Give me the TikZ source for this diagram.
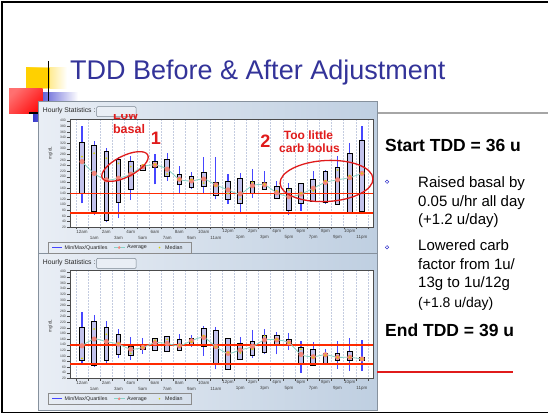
\documentclass[tikz,border=0pt]{standalone}
\usepackage{fontspec}
\setmainfont{Liberation Sans}
\definecolor{titleblue}{HTML}{333399}
\definecolor{whiskblue}{HTML}{4646FF}
\definecolor{boxfill}{HTML}{C2C2EC}
\definecolor{avgred}{HTML}{F2867C}
\definecolor{medyel}{HTML}{D8D400}
\definecolor{tealc}{HTML}{86D2C6}
\definecolor{limred}{HTML}{FF2A00}
\definecolor{annred}{HTML}{E01B1B}
\definecolor{panelA}{HTML}{E9EEF5}
\definecolor{panelB}{HTML}{BFCFE1}
\definecolor{gridc}{HTML}{C4CCE0}
\definecolor{bullblue}{HTML}{3333CC}
\definecolor{decoyel}{HTML}{FFD000}
\definecolor{decored}{HTML}{FF1010}
\definecolor{decoblue}{HTML}{3A3ACC}

\tikzset{
  whisk/.style={whiskblue, line width=1.2pt},
  qbox/.style={draw=black, fill=boxfill, line width=0.9pt},
  avgdot/.style={fill=avgred},
  meddot/.style={fill=medyel},
  avgline/.style={tealc, line width=0.8pt},
  limline/.style={limred, line width=1.7pt},
  gridline/.style={gridc, densely dotted, line width=0.5pt},
  axisline/.style={black!70, line width=0.3pt},
  ylab/.style={font=\fontsize{3.4}{3.6}\selectfont, anchor=east, inner sep=0pt, text=black!75},
  xlab/.style={font=\fontsize{4.5}{5}\selectfont, inner sep=0pt, text=black!75},
  panel/.style={draw=black!30!panelB, line width=0.6pt, left color=panelA, right color=panelB},
  legtext/.style={font=\fontsize{5.3}{6}\selectfont, anchor=west, inner sep=0pt, text=black!85},
  hdrtext/.style={font=\fontsize{6.8}{7}\selectfont, anchor=west, inner sep=0pt, text=black!85},
  unittext/.style={font=\fontsize{4.5}{5}\selectfont, rotate=90, inner sep=0pt, text=black!80},
  annot/.style={font=\bfseries\fontsize{12.5}{13}\selectfont, text=annred, inner sep=0pt, anchor=base},
  bignum/.style={font=\bfseries\fontsize{18}{18}\selectfont, text=annred, inner sep=0pt, anchor=base},
  bigtxt/.style={font=\bfseries\fontsize{17.5}{20}\selectfont, anchor=base west, inner sep=0pt},
  bodytxt/.style={font=\fontsize{15}{18}\selectfont, anchor=base west, inner sep=0pt},
  bul/.style={draw=bullblue, line width=0.5pt},
  ann/.style={annred, line width=1.3pt},
}

\def\topdata{0/105/381/139/323/254/272, 1/64/327/76/310/212/284, 2/38/301/43/290/189/266,
3/52/272/108/262/195/248, 4/117/275/153/256/209/236, 5/222/246/222/242/236/242,
6/173/280/233/256/242/244, 7/186/284/200/260/227/210, 8/141/240/171/209/191/191,
9/155/218/162/200/185/190, 10/143/269/165/215/192/177, 11/119/269/132/180/171/168,
12/102/209/120/185/153/140, 13/76/213/103/195/139/120, 14/124/228/139/182/168/180,
15/155/221/155/180/171/173, 16/123/185/123/167/143/150, 17/64/177/78/157/129/153,
18/79/177/103/177/138/141, 19/111/221/111/192/159/150, 20/103/225/109/218/180/185,
21/100/274/102/232/189/224, 22/67/322/73/284/197/204, 23/67/381/76/329/212/212}

\def\botdata{0/71/257/82/202/136/91, 1/62/246/65/224/160/196, 2/68/224/83/200/151/177,
3/91/195/105/178/142/144, 4/85/166/103/133/124/109, 5/107/163/124/135/130/130,
6/121/165/121/163/147/156, 7/115/172/117/168/144/159, 8/121/177/121/157/136/138,
9/133/174/139/163/154/150, 10/100/206/133/198/166/172, 11/52/204/73/189/133/133,
12/52/165/52/163/109/112, 13/85/166/89/145/121/111, 14/94/192/101/151/133/124,
15/107/196/112/174/157/171, 16/105/186/139/174/157/159, 17/121/180/142/159/147/147,
18/40/153/73/129/105/124, 19/64/148/67/124/97/95, 20/67/123/73/109/104/102,
21/53/153/85/109/95/95, 22/47/163/85/117/95/95, 23/47/157/82/95/89/89}

% #1 = pixel y of the value 20, #2 = data macro
\newcommand\hourchart[2]{%
\begin{scope}[yshift=-#1pt, y=0.28026pt]
  \fill[white] (70,0) rectangle (373,384);
  \foreach \h in {0,...,24} \draw[gridline] ({82+(\h-0.5)*12.17},0) -- ({82+(\h-0.5)*12.17},384);
  \draw[black!70, line width=0.5pt] (70,0) rectangle (373,384);
  \foreach \v in {20,40,...,400} {\draw[axisline] (66.8,\v-20) -- (70,\v-20); \node[ylab] at (66,\v-20) {\v};}
  \foreach \h in {0,...,24} \draw[axisline] ({82+(\h-0.5)*12.17},0) -- ++(0,-8);
  \foreach \h/\l in {0/12am,2/2am,4/4am,6/6am,8/8am,10/10am,12/12pm,14/2pm,16/4pm,18/6pm,20/8pm,22/10pm}
    \node[xlab] at ({82+\h*12.17},-16) {\l};
  \foreach \h/\l in {1/1am,3/3am,5/5am,7/7am,9/9am,11/11am,13/1pm,15/3pm,17/5pm,19/7pm,21/9pm,23/11pm}
    \node[xlab] at ({82+\h*12.17},-37) {\l};
  \foreach \h/\wl/\wh/\bl/\bh/\av/\md in #2 {
    \pgfmathsetmacro\xx{82+\h*12.17}
    \draw[whisk] (\xx,\wl-20) -- (\xx,\wh-20);
  }
  \foreach \h/\wl/\wh/\bl/\bh/\av/\md in #2 {
    \pgfmathsetmacro\xx{82+\h*12.17}
    \draw[qbox] (\xx-2.3,\bl-20) rectangle (\xx+2.3,\bh-20);
  }
  \draw[limline] (70,120) -- (373,120);
  \draw[limline] (70,50) -- (373,50);
  \def\avglist{}
  \foreach \h/\wl/\wh/\bl/\bh/\av/\md in #2 {
    \pgfmathsetmacro\xx{82+\h*12.17}
    \coordinate (av\h) at (\xx,\av-20);
    \xdef\avglist{\avglist (av\h)}
  }
  \edef\tmpline{\noexpand\draw[avgline] plot[smooth, tension=0.5] coordinates {\avglist};}\tmpline
  \foreach \h/\wl/\wh/\bl/\bh/\av/\md in #2 {
    \pgfmathsetmacro\xx{82+\h*12.17}
    \fill[avgdot] (av\h) circle (2.6pt);
    \fill[meddot] (\xx,\md-20) circle (1pt);
  }
\end{scope}}

\newcommand\chartlegend[1]{% #1 = pixel y of legend centre
  \draw[black!45, line width=0.5pt] (48.3,#1-5.8) rectangle (191.7,#1+5.5);
  \draw[whiskblue, line width=0.9pt] (52,#1) -- (62,#1);
  \node[legtext] at (64.5,#1) {Min/Max/Quartiles};
  \draw[tealc, line width=0.8pt] (114,#1) -- (124.5,#1);
  \fill[avgred] (119.2,#1) circle (1.4pt);
  \node[legtext] at (127,#1) {Average};
  \fill[medyel] (159.5,#1) circle (0.9pt);
  \node[legtext] at (165,#1) {Median};
}

\begin{document}
\begin{tikzpicture}[x=1pt, y=-1pt]
\useasboundingbox (0,0) rectangle (548,414);
\fill[white] (0,0) rectangle (548,414);

% slide frame
\draw[black, line width=1.6pt] (548,2) -- (1.8,2) -- (1.8,412.3) -- (548,412.3);

% template decoration
\shade[left color=decoyel, right color=white] (26,67.7) rectangle (67,88.3);
\fill[decoyel] (26,67.7) rectangle (50,88.3);
\shade[left color=decoblue, right color=white] (33,92.7) rectangle (78,122);
\shade[left color=white!40!decored, right color=decored, shading angle=45] (9,88.3) rectangle (42.7,113.3);
\draw[black, line width=1.5pt] (48.5,61) -- (48.5,110);
\draw[black, line width=1.5pt] (29,113) -- (60,113);
\draw[black!35, line width=1.2pt] (60,113) -- (548,113);

% title
\node[font=\fontsize{27}{30}\selectfont, text=titleblue, anchor=base west, inner sep=0pt] (title) at (70,80) {TDD Before \& After Adjustment};

% screenshot panels
\shade[panel] (38,101.7) rectangle (377,253);
\shade[panel] (38,253) rectangle (377,410.5);

\node[hdrtext] (hs1) at (42.7,111) {Hourly Statistics :};
\draw[black!35!panelB, fill=panelA, rounded corners=1pt, line width=0.5pt] (96.7,106.7) rectangle (136,116.7);
\node[hdrtext] (hs2) at (42.7,262.7) {Hourly Statistics :};
\draw[black!35!panelB, fill=panelA, rounded corners=1pt, line width=0.5pt] (96.7,258.4) rectangle (136,268.4);

\node[unittext] (u1) at (50.5,153) {mg/dL};
\node[unittext] (u2) at (50.5,326) {mg/dL};

\hourchart{227.2}{\topdata}
\hourchart{378.3}{\botdata}

\chartlegend{247.6}
\chartlegend{398.8}

% annotations on the first chart
\begin{scope}
  \clip (100,114.6) rectangle (160,125);
  \node[annot] (low) at (125.5,120) {Low};
\end{scope}
\node[annot] (basal) at (129,133.3) {basal};
\node[bignum] (one) at (156,145) {1};
\draw[ann, rotate around={27:(125,166.5)}] (125,166.5) ellipse [x radius=25.5, y radius=10.5];
\node[bignum] (two) at (265.5,148) {2};
\node[annot, font=\bfseries\fontsize{12}{13}\selectfont] (too) at (308.5,140) {Too little};
\node[annot, font=\bfseries\fontsize{12}{13}\selectfont] (carb) at (309.5,152.7) {carb bolus};
\draw[ann, rotate around={3:(326.5,181)}] (326.5,181) ellipse [x radius=46.5, y radius=20.5];

% right-hand text
\node[bigtxt] (start) at (385,151.7) {Start TDD = 36 u};
\draw[bul] (387,181.7) circle (1.7pt);
\node[bodytxt] (r1) at (418,187.7) {Raised basal by};
\node[bodytxt] (r2) at (418,206) {0.05 u/hr all day};
\node[bodytxt] (r3) at (418,224.5) {(+1.2 u/day)};
\draw[bul] (387,247.3) circle (1.7pt);
\node[bodytxt] (l1) at (418,250.7) {Lowered carb};
\node[bodytxt] (l2) at (418,269) {factor from 1u/};
\node[bodytxt] (l3) at (418,287.5) {13g to 1u/12g};
\node[bodytxt, font=\fontsize{14}{17}\selectfont] (l4) at (418,307.3) {(+1.8 u/day)};
\node[bigtxt] (end) at (385,336.7) {End TDD = 39 u};

\draw[annred, line width=1.1pt] (377,372) -- (513,372);
\end{tikzpicture}
\end{document}
